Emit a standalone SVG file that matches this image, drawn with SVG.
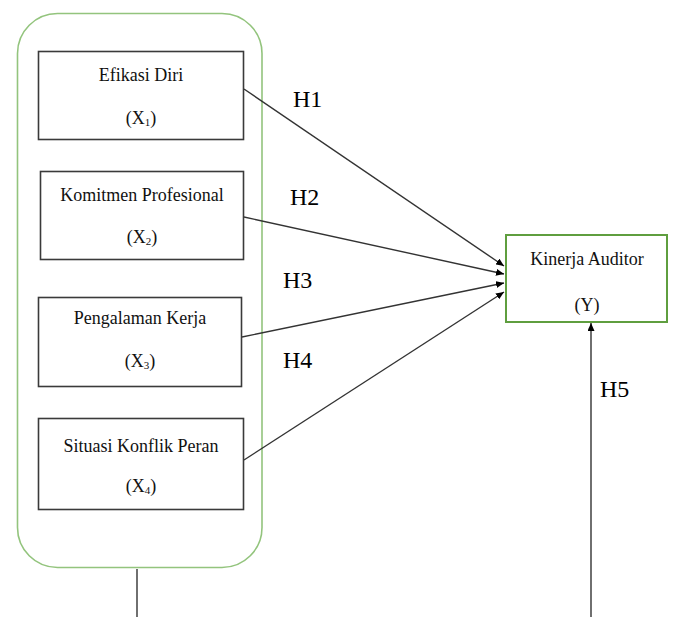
<svg xmlns="http://www.w3.org/2000/svg" width="675" height="617" viewBox="0 0 675 617">
<style>
.box{fill:#fff;stroke:#3a3a3a;stroke-width:1.6}
.ybox{fill:#fff;stroke:#5f9e3f;stroke-width:2}
.group{fill:none;stroke:#93c47d;stroke-width:1.6}
.t{font-family:"Liberation Serif","Times New Roman",serif;font-size:18px;fill:#111;text-anchor:middle}
.h{font-family:"Liberation Serif","Times New Roman",serif;font-size:24px;fill:#000}
.sub{font-size:11px}
.c{stroke:#333;stroke-width:1.4;fill:none}
</style>
<defs>
<marker id="ah" markerWidth="8" markerHeight="7" refX="8" refY="3.5" orient="auto" markerUnits="userSpaceOnUse">
<path d="M0,0 L8,3.5 L0,7 Z" fill="#000"/>
</marker>
</defs>
<rect id="group-x" class="group" x="17.5" y="13.5" width="244.5" height="554" rx="40" ry="40"/>
<g id="connectors">
<line class="c" x1="244" y1="89" x2="504" y2="266" marker-end="url(#ah)"/>
<line class="c" x1="244" y1="217" x2="504" y2="274" marker-end="url(#ah)"/>
<line class="c" x1="242" y1="337" x2="504" y2="283" marker-end="url(#ah)"/>
<line class="c" x1="244" y1="460" x2="504" y2="292" marker-end="url(#ah)"/>
<line class="c" x1="591" y1="617" x2="591" y2="323" stroke="#555" stroke-width="1.8" marker-end="url(#ah)"/>
<line class="c" x1="137" y1="569" x2="137" y2="617"/>
</g>
<g id="x1">
<rect class="box" x="38.5" y="51.5" width="205" height="88"/>
<text class="t" x="141" y="81">Efikasi Diri</text>
<text class="t" x="141" y="124">(X<tspan class="sub" dy="2">1</tspan><tspan dy="-2">)</tspan></text>
</g>
<g id="x2">
<rect class="box" x="40.5" y="171.5" width="203" height="88"/>
<text class="t" x="142" y="201">Komitmen Profesional</text>
<text class="t" x="142" y="243">(X<tspan class="sub" dy="2">2</tspan><tspan dy="-2">)</tspan></text>
</g>
<g id="x3">
<rect class="box" x="38.5" y="297.5" width="203" height="89"/>
<text class="t" x="140" y="324">Pengalaman Kerja</text>
<text class="t" x="140" y="367">(X<tspan class="sub" dy="2">3</tspan><tspan dy="-2">)</tspan></text>
</g>
<g id="x4">
<rect class="box" x="38.5" y="418.5" width="205" height="91"/>
<text class="t" x="141" y="452">Situasi Konflik Peran</text>
<text class="t" x="141" y="492">(X<tspan class="sub" dy="2">4</tspan><tspan dy="-2">)</tspan></text>
</g>
<g id="y">
<rect class="ybox" x="506" y="235" width="161" height="87"/>
<text class="t" x="587" y="265">Kinerja Auditor</text>
<text class="t" x="587" y="311">(Y)</text>
</g>
<g id="labels">
<text class="h" x="293" y="107">H1</text>
<text class="h" x="290" y="205">H2</text>
<text class="h" x="283" y="288">H3</text>
<text class="h" x="283" y="368">H4</text>
<text class="h" x="600" y="397">H5</text>
</g>
</svg>
